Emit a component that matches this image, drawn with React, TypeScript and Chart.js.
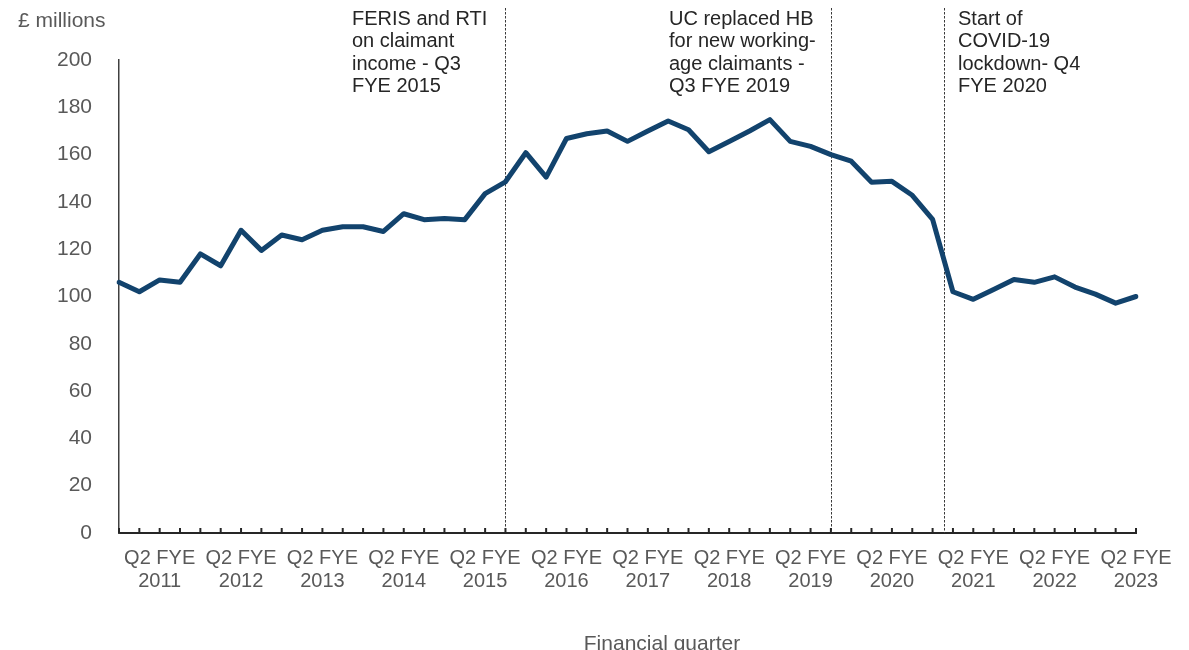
import { useEffect, useRef } from 'react';
import { Chart, registerables } from 'chart.js';

Chart.register(...registerables);

// Financial quarters (category axis), first = Q4 FYE 2010, last = Q2 FYE 2023
const quarterLabels = [
  'Q4 FYE 2010',
  'Q1 FYE 2011', 'Q2 FYE 2011', 'Q3 FYE 2011', 'Q4 FYE 2011',
  'Q1 FYE 2012', 'Q2 FYE 2012', 'Q3 FYE 2012', 'Q4 FYE 2012',
  'Q1 FYE 2013', 'Q2 FYE 2013', 'Q3 FYE 2013', 'Q4 FYE 2013',
  'Q1 FYE 2014', 'Q2 FYE 2014', 'Q3 FYE 2014', 'Q4 FYE 2014',
  'Q1 FYE 2015', 'Q2 FYE 2015', 'Q3 FYE 2015', 'Q4 FYE 2015',
  'Q1 FYE 2016', 'Q2 FYE 2016', 'Q3 FYE 2016', 'Q4 FYE 2016',
  'Q1 FYE 2017', 'Q2 FYE 2017', 'Q3 FYE 2017', 'Q4 FYE 2017',
  'Q1 FYE 2018', 'Q2 FYE 2018', 'Q3 FYE 2018', 'Q4 FYE 2018',
  'Q1 FYE 2019', 'Q2 FYE 2019', 'Q3 FYE 2019', 'Q4 FYE 2019',
  'Q1 FYE 2020', 'Q2 FYE 2020', 'Q3 FYE 2020', 'Q4 FYE 2020',
  'Q1 FYE 2021', 'Q2 FYE 2021', 'Q3 FYE 2021', 'Q4 FYE 2021',
  'Q1 FYE 2022', 'Q2 FYE 2022', 'Q3 FYE 2022', 'Q4 FYE 2022',
  'Q1 FYE 2023', 'Q2 FYE 2023',
];

// £ millions
const values = [
  106,
  102, 107, 106, 118,
  113, 128, 119.5, 126,
  124, 128, 129.5, 129.5,
  127.5, 135, 132.5, 133,
  132.5, 143.5, 148.5, 160.8,
  150.5, 166.8, 168.8, 170,
  165.6, 170, 174.2, 170.5,
  161.2, 165.5, 170, 174.8,
  165.6, 163.5, 160, 157.2,
  148.3, 148.7, 142.8, 132.6,
  102, 98.8, 103, 107.2,
  106, 108.3, 104, 101,
  97.2, 100,
];

const yMin = 0;
const yMax = 200;
const yStep = 20;

// Event markers: position on the quarter axis and their label lines
const eventPositions = [19, 35, 40.55];
const eventTexts = [
  ['FERIS and RTI', 'on claimant', 'income - Q3', 'FYE 2015'],
  ['UC replaced HB', 'for new working-', 'age claimants -', 'Q3 FYE 2019'],
  ['Start of', 'COVID-19', 'lockdown- Q4', 'FYE 2020'],
];
const eventTextX = [352, 669, 958];

const yAxisTitle = '£ millions';
const xAxisTitle = 'Financial quarter';

const FONT = "'Liberation Sans', Arial, sans-serif";

const overlayPlugin = {
  id: 'overlay',
  beforeDatasetsDraw(chart: any) {
    const ctx = chart.ctx;
    const x = chart.scales.x;
    const bottom = chart.chartArea.bottom;
    ctx.save();
    ctx.strokeStyle = '#3a3a3a';
    ctx.lineWidth = 1;
    ctx.setLineDash([2.5, 1.5]);
    eventPositions.forEach((p) => {
      const px = Math.round(x.getPixelForValue(p)) + 0.5;
      ctx.beginPath();
      ctx.moveTo(px, 8);
      ctx.lineTo(px, bottom);
      ctx.stroke();
    });
    ctx.restore();
  },
  afterDraw(chart: any) {
    const ctx = chart.ctx;
    const x = chart.scales.x;
    const bottom = chart.chartArea.bottom;
    ctx.save();
    // upward tick marks on the category axis
    ctx.strokeStyle = '#262626';
    ctx.lineWidth = 2;
    for (let i = 0; i < quarterLabels.length; i++) {
      const px = x.getPixelForValue(i);
      ctx.beginPath();
      ctx.moveTo(px, bottom);
      ctx.lineTo(px, bottom - 5);
      ctx.stroke();
    }
    // event annotation text
    ctx.fillStyle = '#262626';
    ctx.font = `20px ${FONT}`;
    ctx.textAlign = 'left';
    ctx.textBaseline = 'middle';
    eventTexts.forEach((lines, k) => {
      lines.forEach((t, j) => {
        ctx.fillText(t, eventTextX[k], 19 + j * 22.6);
      });
    });
    // axis titles
    ctx.fillStyle = '#595959';
    ctx.font = `21px ${FONT}`;
    ctx.textAlign = 'left';
    ctx.fillText(yAxisTitle, 18, 21);
    ctx.textAlign = 'center';
    ctx.textBaseline = 'top';
    ctx.fillText(xAxisTitle, 662, 634);
    ctx.restore();
  },
};

export default function App() {
  const ref = useRef<HTMLCanvasElement | null>(null);
  useEffect(() => {
    if (!ref.current) return;
    const chart = new Chart(ref.current, {
      type: 'line',
      data: {
        labels: quarterLabels,
        datasets: [
          {
            data: values,
            borderColor: '#12436D',
            borderWidth: 5,
            pointRadius: 0,
            tension: 0,
            fill: false,
            borderJoinStyle: 'round',
            borderCapStyle: 'round',
          },
        ],
      },
      options: {
        responsive: true,
        maintainAspectRatio: false,
        animation: false,
        layout: { padding: { left: 0, top: 60, right: 53, bottom: 0 } },
        plugins: {
          legend: { display: false },
          tooltip: { enabled: false },
        },
        scales: {
          x: {
            type: 'category',
            offset: false,
            grid: { display: false, drawTicks: false },
            border: { display: true, color: '#262626', width: 2 },
            ticks: {
              autoSkip: false,
              maxRotation: 0,
              minRotation: 0,
              padding: 14,
              color: '#595959',
              font: { family: FONT, size: 20, lineHeight: 1.15 },
              callback: (_v: any, i: number) => {
                const l = quarterLabels[i];
                return l.startsWith('Q2') ? [l.slice(0, 6), l.slice(7)] : '';
              },
            },
            afterFit: (s: any) => {
              s.height = 117;
            },
          },
          y: {
            min: yMin,
            max: yMax,
            grid: { display: false, drawTicks: false },
            border: { display: true, color: '#404040', width: 1.5 },
            ticks: {
              stepSize: yStep,
              padding: 27,
              color: '#595959',
              font: { family: FONT, size: 21 },
            },
            afterFit: (s: any) => {
              s.width = 119;
            },
          },
        },
      },
      plugins: [overlayPlugin],
    });
    return () => chart.destroy();
  }, []);
  return (
    <div style={{ position: 'absolute', left: 0, top: 0, width: 1189, height: 650, background: '#fff' }}>
      <canvas ref={ref} />
    </div>
  );
}
